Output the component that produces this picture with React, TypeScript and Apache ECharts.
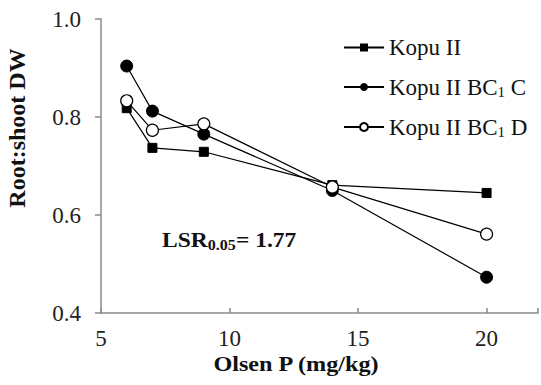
import React, { useEffect, useRef } from "react";
import * as echarts from "echarts";

const xValues = [6, 7, 9, 14, 20];
const kopuII = [0.818, 0.737, 0.729, 0.661, 0.645];
const kopuBC1C = [0.904, 0.812, 0.765, 0.65, 0.473];
const kopuBC1D = [0.833, 0.773, 0.786, 0.657, 0.561];
const seriesNames = ["Kopu II", "Kopu II BC1 C", "Kopu II BC1 D"];

const FONT = "Liberation Serif";

export default function App() {
  const ref = useRef<HTMLDivElement>(null);
  useEffect(() => {
    if (!ref.current) return;
    const chart = echarts.init(ref.current, undefined, { renderer: "svg" });
    const pair = (ys: number[]) => xValues.map((x, i) => [x, ys[i]]);
    const lineStyle = { color: "#000", width: 1.2 };
    chart.setOption({
      animation: false,
      backgroundColor: "#fff",
      textStyle: { fontFamily: FONT },
      grid: { left: 101, top: 19, right: 0, bottom: 72, containLabel: false },
      xAxis: {
        type: "value",
        min: 5,
        max: 22,
        interval: 5,
        axisLine: { show: true, lineStyle: { color: "#8a8a8a", width: 1.5 } },
        axisTick: { show: true, inside: true, length: 5, lineStyle: { color: "#8a8a8a", width: 1.5 } },
        axisLabel: {
          margin: 14,
          color: "#222",
          fontFamily: FONT,
          fontSize: 23,
          formatter: (v: number) => (v > 20 ? "" : String(v)),
        },
        splitLine: { show: false },
      },
      yAxis: {
        type: "value",
        min: 0.4,
        max: 1.0,
        interval: 0.2,
        axisLine: { show: true, lineStyle: { color: "#8a8a8a", width: 1.5 } },
        axisTick: { show: true, inside: false, length: 6, lineStyle: { color: "#8a8a8a", width: 1.5 } },
        axisLabel: {
          margin: 20,
          color: "#222",
          fontFamily: FONT,
          fontSize: 23,
          formatter: (v: number) => v.toFixed(1),
        },
        splitLine: { show: false },
      },
      legend: {
        orient: "vertical",
        left: 343,
        top: 36,
        padding: 0,
        itemWidth: 40,
        itemHeight: 10,
        itemGap: 16,
        textStyle: {
          fontFamily: FONT,
          fontSize: 23,
          color: "#111",
          rich: {
            n: { fontFamily: FONT, fontSize: 23, lineHeight: 24, color: "#111" },
            s: { fontFamily: FONT, fontSize: 15, lineHeight: 15, color: "#111", padding: [9, 0, 0, 0] },
          },
        },
        formatter: (name: string) => {
          if (name === seriesNames[0]) return "{n|Kopu II}";
          const last = name.slice(-1);
          return "{n|Kopu II BC}{s|1}{n| " + last + "}";
        },
        data: seriesNames,
      },
      series: [
        {
          name: seriesNames[0],
          type: "line",
          data: pair(kopuII),
          symbol: "rect",
          symbolSize: 9,
          lineStyle,
          itemStyle: { color: "#000", borderColor: "#000" },
        },
        {
          name: seriesNames[1],
          type: "line",
          data: pair(kopuBC1C),
          symbol: "circle",
          symbolSize: 12,
          lineStyle,
          itemStyle: { color: "#000", borderColor: "#000" },
        },
        {
          name: seriesNames[2],
          type: "line",
          data: pair(kopuBC1D),
          symbol: "circle",
          symbolSize: 12,
          lineStyle,
          itemStyle: { color: "#fff", borderColor: "#000", borderWidth: 1.2 },
        },
      ],
      graphic: [
        {
          type: "text",
          x: 17,
          y: 128,
          rotation: Math.PI / 2,
          style: {
            text: "Root:shoot DW",
            fontFamily: FONT,
            fontWeight: "bold",
            fontSize: 24,
            fill: "#111",
            align: "center",
            verticalAlign: "middle",
          },
        },
        {
          type: "text",
          x: 296,
          y: 363,
          scaleX: 1.1,
          style: {
            text: "Olsen P (mg/kg)",
            fontFamily: FONT,
            fontWeight: "bold",
            fontSize: 22,
            fill: "#111",
            align: "center",
            verticalAlign: "middle",
          },
        },
        {
          type: "text",
          x: 162,
          y: 240,
          scaleX: 1.07,
          style: {
            text: "{a|LSR}{b|0.05}{a|= 1.77}",
            fontFamily: FONT,
            fill: "#111",
            verticalAlign: "middle",
            rich: {
              a: { fontFamily: FONT, fontWeight: "bold", fontSize: 22, lineHeight: 24, fill: "#111" },
              b: { fontFamily: FONT, fontWeight: "bold", fontSize: 15, lineHeight: 15, fill: "#111", padding: [9, 0, 0, 0] },
            },
          },
        },
      ],
    });
    return () => chart.dispose();
  }, []);
  return <div ref={ref} style={{ width: 541, height: 385, position: "absolute", left: 0, top: 0 }} />;
}
